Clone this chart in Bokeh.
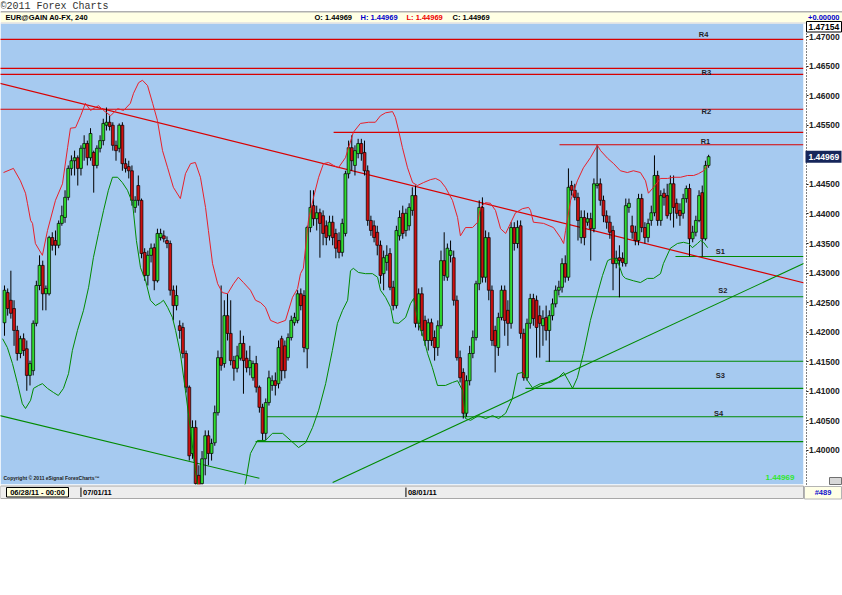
from bokeh.plotting import figure
from bokeh.models import (ColumnDataSource, Range1d, FixedTicker, LinearAxis,
                          PrintfTickFormatter)
from bokeh.core.properties import value
from bokeh.embed import file_html
from bokeh.resources import INLINE

# ---------------------------------------------------------------- data
SYMBOL = "EUR@GAIN A0-FX, 240"
FIRST_BAR = "06/28/11 - 00:00"
BAR_COUNT = "#489"
COPYRIGHT = "Copyright \u00a9 2011 eSignal ForexCharts\u2122"
CHANGE = "+0.00000"
TOP_PRICE = 1.47154

# 4-hour EUR/USD bars (open / high / low / close)
opens = [
    1.4216, 1.4267, 1.4254, 1.4240, 1.4203, 1.4164, 1.4189, 1.4172, 1.4127, 1.4135,
    1.4215, 1.4279, 1.4313, 1.4265, 1.4265, 1.4360, 1.4355, 1.4347, 1.4384, 1.4394,
    1.4428, 1.4477, 1.4490, 1.4495, 1.4477, 1.4511, 1.4519, 1.4495, 1.4504, 1.4482,
    1.4511, 1.4524, 1.4550, 1.4555, 1.4550, 1.4516, 1.4511, 1.4550, 1.4485, 1.4480,
    1.4473, 1.4411, 1.4448, 1.4423, 1.4335, 1.4296, 1.4330, 1.4343, 1.4287, 1.4360,
    1.4363, 1.4355, 1.4350, 1.4271, 1.4245, 1.4211, 1.4208, 1.4164, 1.4107, 1.3995,
    1.4039, 1.3958, 1.3944, 1.3986, 1.4025, 1.3995, 1.4013, 1.4064, 1.4157, 1.4147,
    1.4228, 1.4198, 1.4152, 1.4139, 1.4156, 1.4181, 1.4156, 1.4140, 1.4123, 1.4147,
    1.4107, 1.4073, 1.4029, 1.4081, 1.4110, 1.4118, 1.4113, 1.4189, 1.4177, 1.4157,
    1.4191, 1.4216, 1.4220, 1.4265, 1.4262, 1.4172, 1.4377, 1.4414, 1.4392, 1.4402,
    1.4397, 1.4380, 1.4363, 1.4386, 1.4367, 1.4355, 1.4335, 1.4367, 1.4468, 1.4512,
    1.4482, 1.4502, 1.4519, 1.4504, 1.4473, 1.4389, 1.4380, 1.4369, 1.4347, 1.4299,
    1.4318, 1.4333, 1.4276, 1.4245, 1.4363, 1.4401, 1.4372, 1.4380, 1.4406, 1.4431,
    1.4215, 1.4265, 1.4220, 1.4186, 1.4216, 1.4191, 1.4174, 1.4211, 1.4321, 1.4293,
    1.4330, 1.4326, 1.4254, 1.4157, 1.4132, 1.4063, 1.4118, 1.4164, 1.4191, 1.4282,
    1.4411, 1.4293, 1.4360, 1.4271, 1.4203, 1.4174, 1.4225, 1.4271, 1.4237, 1.4215,
    1.4377, 1.4350, 1.4380, 1.4198, 1.4123, 1.4215, 1.4257, 1.4254, 1.4228, 1.4211,
    1.4225, 1.4203, 1.4228, 1.4248, 1.4271, 1.4276, 1.4316, 1.4293, 1.4448, 1.4440,
    1.4428, 1.4360, 1.4394, 1.4386, 1.4392, 1.4375, 1.4448, 1.4451, 1.4423, 1.4397,
    1.4386, 1.4372, 1.4316, 1.4326, 1.4325, 1.4316, 1.4411, 1.4380, 1.4369, 1.4355,
    1.4426, 1.4377, 1.4360, 1.4389, 1.4402, 1.4465, 1.4389, 1.4435, 1.4431, 1.4401,
    1.4451, 1.4418, 1.4406, 1.4401, 1.4426, 1.4443, 1.4358, 1.4369, 1.4389, 1.4436,
    1.4358, 1.4482,
]
highs = [
    1.4279, 1.4274, 1.4304, 1.4254, 1.4211, 1.4194, 1.4198, 1.4186, 1.4152, 1.4220,
    1.4287, 1.4330, 1.4321, 1.4279, 1.4363, 1.4369, 1.4372, 1.4389, 1.4414, 1.4440,
    1.4482, 1.4499, 1.4507, 1.4499, 1.4516, 1.4533, 1.4524, 1.4545, 1.4507, 1.4516,
    1.4533, 1.4561, 1.4580, 1.4566, 1.4555, 1.4524, 1.4553, 1.4555, 1.4494, 1.4490,
    1.4482, 1.4430, 1.4465, 1.4426, 1.4342, 1.4338, 1.4350, 1.4350, 1.4375, 1.4375,
    1.4372, 1.4362, 1.4355, 1.4279, 1.4279, 1.4220, 1.4216, 1.4169, 1.4110, 1.4051,
    1.4051, 1.3975, 1.3999, 1.4034, 1.4034, 1.4020, 1.4076, 1.4169, 1.4279, 1.4254,
    1.4265, 1.4254, 1.4160, 1.4177, 1.4203, 1.4194, 1.4169, 1.4177, 1.4152, 1.4160,
    1.4110, 1.4079, 1.4088, 1.4135, 1.4127, 1.4132, 1.4186, 1.4194, 1.4186, 1.4198,
    1.4228, 1.4233, 1.4271, 1.4274, 1.4271, 1.4380, 1.4440, 1.4440, 1.4414, 1.4409,
    1.4406, 1.4389, 1.4397, 1.4397, 1.4375, 1.4369, 1.4392, 1.4473, 1.4524, 1.4533,
    1.4516, 1.4527, 1.4527, 1.4524, 1.4482, 1.4397, 1.4389, 1.4380, 1.4355, 1.4338,
    1.4347, 1.4342, 1.4287, 1.4380, 1.4406, 1.4414, 1.4409, 1.4418, 1.4445, 1.4448,
    1.4274, 1.4276, 1.4228, 1.4223, 1.4223, 1.4203, 1.4220, 1.4338, 1.4369, 1.4350,
    1.4355, 1.4338, 1.4262, 1.4169, 1.4139, 1.4127, 1.4177, 1.4203, 1.4287, 1.4423,
    1.4428, 1.4372, 1.4369, 1.4279, 1.4211, 1.4233, 1.4279, 1.4279, 1.4254, 1.4386,
    1.4386, 1.4389, 1.4389, 1.4206, 1.4223, 1.4265, 1.4265, 1.4262, 1.4245, 1.4237,
    1.4245, 1.4237, 1.4257, 1.4279, 1.4287, 1.4325, 1.4330, 1.4477, 1.4456, 1.4451,
    1.4436, 1.4406, 1.4406, 1.4402, 1.4402, 1.4460, 1.4516, 1.4460, 1.4431, 1.4406,
    1.4397, 1.4380, 1.4338, 1.4347, 1.4335, 1.4426, 1.4426, 1.4397, 1.4380, 1.4434,
    1.4434, 1.4386, 1.4392, 1.4414, 1.4499, 1.4473, 1.4440, 1.4443, 1.4451, 1.4465,
    1.4465, 1.4426, 1.4418, 1.4434, 1.4448, 1.4451, 1.4380, 1.4397, 1.4440, 1.4448,
    1.4490, 1.4500,
]
lows = [
    1.4194, 1.4228, 1.4223, 1.4177, 1.4152, 1.4156, 1.4160, 1.4101, 1.4110, 1.4127,
    1.4210, 1.4271, 1.4237, 1.4237, 1.4262, 1.4338, 1.4330, 1.4342, 1.4380, 1.4385,
    1.4423, 1.4465, 1.4465, 1.4448, 1.4465, 1.4490, 1.4482, 1.4490, 1.4436, 1.4477,
    1.4504, 1.4516, 1.4541, 1.4541, 1.4507, 1.4490, 1.4504, 1.4473, 1.4470, 1.4460,
    1.4414, 1.4402, 1.4414, 1.4325, 1.4287, 1.4279, 1.4318, 1.4271, 1.4284, 1.4355,
    1.4352, 1.4342, 1.4262, 1.4220, 1.4237, 1.4189, 1.4156, 1.4098, 1.3983, 1.3986,
    1.3932, 1.3925, 1.3932, 1.3958, 1.3975, 1.3983, 1.4008, 1.4059, 1.4135, 1.4140,
    1.4186, 1.4144, 1.4118, 1.4132, 1.4152, 1.4096, 1.4132, 1.4127, 1.4118, 1.4098,
    1.4064, 1.4017, 1.4017, 1.4076, 1.4101, 1.4093, 1.4105, 1.4118, 1.4122, 1.4152,
    1.4186, 1.4211, 1.4215, 1.4237, 1.4166, 1.4139, 1.4369, 1.4380, 1.4372, 1.4326,
    1.4347, 1.4347, 1.4355, 1.4347, 1.4325, 1.4325, 1.4328, 1.4362, 1.4460, 1.4473,
    1.4465, 1.4494, 1.4490, 1.4465, 1.4380, 1.4363, 1.4352, 1.4330, 1.4282, 1.4271,
    1.4304, 1.4271, 1.4237, 1.4240, 1.4355, 1.4358, 1.4362, 1.4372, 1.4397, 1.4208,
    1.4203, 1.4194, 1.4177, 1.4169, 1.4177, 1.4152, 1.4160, 1.4206, 1.4287, 1.4287,
    1.4318, 1.4245, 1.4152, 1.4115, 1.4054, 1.4057, 1.4110, 1.4156, 1.4186, 1.4271,
    1.4284, 1.4284, 1.4254, 1.4177, 1.4132, 1.4160, 1.4220, 1.4194, 1.4177, 1.4206,
    1.4338, 1.4342, 1.4189, 1.4118, 1.4118, 1.4206, 1.4211, 1.4157, 1.4157, 1.4177,
    1.4186, 1.4150, 1.4220, 1.4242, 1.4262, 1.4267, 1.4284, 1.4287, 1.4431, 1.4423,
    1.4355, 1.4350, 1.4347, 1.4380, 1.4321, 1.4369, 1.4443, 1.4414, 1.4386, 1.4375,
    1.4358, 1.4271, 1.4308, 1.4259, 1.4311, 1.4311, 1.4402, 1.4358, 1.4347, 1.4347,
    1.4369, 1.4350, 1.4352, 1.4380, 1.4396, 1.4380, 1.4380, 1.4414, 1.4392, 1.4389,
    1.4377, 1.4392, 1.4380, 1.4392, 1.4419, 1.4328, 1.4352, 1.4362, 1.4386, 1.4328,
    1.4355, 1.4478,
]
closes = [
    1.4271, 1.4240, 1.4232, 1.4203, 1.4164, 1.4189, 1.4169, 1.4127, 1.4147, 1.4215,
    1.4279, 1.4313, 1.4265, 1.4274, 1.4360, 1.4347, 1.4347, 1.4384, 1.4397, 1.4428,
    1.4477, 1.4490, 1.4495, 1.4477, 1.4511, 1.4519, 1.4495, 1.4536, 1.4482, 1.4511,
    1.4524, 1.4553, 1.4555, 1.4548, 1.4516, 1.4507, 1.4550, 1.4485, 1.4477, 1.4473,
    1.4423, 1.4423, 1.4423, 1.4333, 1.4296, 1.4330, 1.4342, 1.4287, 1.4367, 1.4367,
    1.4358, 1.4350, 1.4271, 1.4245, 1.4262, 1.4203, 1.4164, 1.4107, 1.3991, 1.4039,
    1.3944, 1.3936, 1.3986, 1.4025, 1.3995, 1.4012, 1.4064, 1.4157, 1.4144, 1.4228,
    1.4198, 1.4152, 1.4139, 1.4160, 1.4181, 1.4152, 1.4140, 1.4152, 1.4147, 1.4107,
    1.4073, 1.4029, 1.4081, 1.4123, 1.4118, 1.4110, 1.4174, 1.4135, 1.4135, 1.4191,
    1.4220, 1.4225, 1.4265, 1.4245, 1.4174, 1.4377, 1.4411, 1.4392, 1.4402, 1.4384,
    1.4367, 1.4360, 1.4386, 1.4360, 1.4342, 1.4335, 1.4384, 1.4468, 1.4512, 1.4490,
    1.4507, 1.4519, 1.4502, 1.4473, 1.4389, 1.4372, 1.4360, 1.4347, 1.4296, 1.4326,
    1.4330, 1.4276, 1.4245, 1.4372, 1.4394, 1.4367, 1.4401, 1.4411, 1.4431, 1.4215,
    1.4265, 1.4203, 1.4186, 1.4216, 1.4186, 1.4174, 1.4211, 1.4321, 1.4296, 1.4342,
    1.4338, 1.4254, 1.4157, 1.4123, 1.4063, 1.4118, 1.4164, 1.4191, 1.4282, 1.4411,
    1.4293, 1.4360, 1.4271, 1.4186, 1.4177, 1.4225, 1.4271, 1.4220, 1.4215, 1.4377,
    1.4350, 1.4377, 1.4198, 1.4123, 1.4215, 1.4257, 1.4223, 1.4208, 1.4215, 1.4223,
    1.4203, 1.4228, 1.4248, 1.4271, 1.4276, 1.4316, 1.4293, 1.4445, 1.4440, 1.4428,
    1.4389, 1.4394, 1.4360, 1.4392, 1.4375, 1.4451, 1.4451, 1.4423, 1.4397, 1.4386,
    1.4369, 1.4316, 1.4325, 1.4321, 1.4318, 1.4414, 1.4418, 1.4369, 1.4355, 1.4426,
    1.4377, 1.4360, 1.4384, 1.4402, 1.4465, 1.4389, 1.4431, 1.4428, 1.4397, 1.4451,
    1.4411, 1.4401, 1.4397, 1.4426, 1.4443, 1.4358, 1.4369, 1.4389, 1.4431, 1.4358,
    1.4482, 1.44969,
]

# Bollinger envelope (bar position, price)
upper_bar = [
    -0.3, 2.8, 5.0, 6.6, 7.2, 8.2, 8.8, 9.7, 11.9, 13.5,
    16.0, 18.2, 19.8, 20.7, 22.3, 23.9, 25.4, 27.0, 29.5, 31.1,
    33.3, 35.5, 37.4, 39.5, 40.5, 42.1, 43.3, 44.9, 46.5, 48.0,
    49.6, 51.2, 53.0, 55.2, 56.8, 58.4, 59.9, 61.5, 63.1, 64.0,
    65.3, 66.9, 68.4, 70.0, 71.9, 73.4, 75.0, 77.2, 78.8, 80.4,
    81.9, 83.5, 85.7, 88.2, 90.4, 92.0, 92.9, 93.8, 95.4, 97.0,
    98.6, 100.1, 101.7, 103.3, 104.8, 107.0, 109.5, 111.7, 114.3, 116.4,
    118.0, 119.6, 121.8, 122.7, 123.7, 124.9, 126.5, 128.1, 129.6, 131.5,
    133.7, 135.3, 136.8, 138.4, 140.6, 142.2, 143.1, 144.7, 146.9, 148.5,
    149.4, 151.0, 152.5, 154.1, 155.7, 157.3, 158.8, 160.4, 162.6, 164.5,
    165.1, 166.0, 169.2, 172.3, 174.5, 175.5, 176.1, 177.7, 179.8, 181.7,
    183.9, 186.1, 187.1, 189.3, 191.2, 193.3, 195.5, 197.4, 199.6, 201.2,
    202.1, 203.7, 205.9, 208.1, 210.0, 212.2, 214.4, 216.3, 217.8, 219.4,
    220.7,
]
upper_band = [
    1.4470, 1.4477, 1.4456, 1.4435, 1.4418, 1.4389, 1.4384, 1.4350, 1.4330, 1.4372,
    1.4423, 1.4451, 1.4512, 1.4545, 1.4546, 1.4566, 1.4587, 1.4575, 1.4583, 1.4575,
    1.4566, 1.4578, 1.4575, 1.4587, 1.4604, 1.4622, 1.4626, 1.4617, 1.4587, 1.4558,
    1.4507, 1.4478, 1.4445, 1.4426, 1.4468, 1.4485, 1.4487, 1.4462, 1.4411, 1.4372,
    1.4316, 1.4282, 1.4267, 1.4265, 1.4282, 1.4293, 1.4284, 1.4271, 1.4254, 1.4250,
    1.4242, 1.4220, 1.4215, 1.4220, 1.4259, 1.4274, 1.4299, 1.4308, 1.4389, 1.4428,
    1.4462, 1.4485, 1.4487, 1.4482, 1.4478, 1.4495, 1.4538, 1.4553, 1.4555, 1.4555,
    1.4566, 1.4571, 1.4573, 1.4563, 1.4541, 1.4512, 1.4478, 1.4453, 1.4448, 1.4453,
    1.4458, 1.4460, 1.4456, 1.4445, 1.4423, 1.4394, 1.4363, 1.4377, 1.4377, 1.4386,
    1.4411, 1.4419, 1.4418, 1.4406, 1.4375, 1.4367, 1.4384, 1.4402, 1.4409, 1.4411,
    1.4406, 1.4386, 1.4384, 1.4377, 1.4360, 1.4350, 1.4372, 1.4423, 1.4456, 1.4478,
    1.4495, 1.4516, 1.4507, 1.4494, 1.4485, 1.4473, 1.4470, 1.4473, 1.4470, 1.4456,
    1.4435, 1.4445, 1.4460, 1.4460, 1.4462, 1.4462, 1.4465, 1.4465, 1.4468, 1.4473,
    1.4482,
]
lower_bar = [
    -0.6, 0.9, 2.5, 4.1, 5.6, 6.6, 8.2, 9.1, 10.7, 11.9,
    13.5, 15.4, 16.9, 18.5, 20.1, 21.3, 22.9, 24.8, 26.4, 27.9,
    29.5, 31.1, 32.6, 33.9, 35.5, 37.0, 38.6, 40.2, 41.4, 42.7,
    44.3, 45.8, 47.4, 49.0, 49.9, 51.2, 52.7, 53.7, 55.2, 56.8,
    58.4, 59.9, 61.5, 65.0, 70.0, 75.6, 77.2, 79.4, 81.9, 84.1,
    87.3, 89.8, 92.3, 94.5, 96.7, 98.6, 100.8, 102.9, 104.5, 106.1,
    107.7, 108.6, 109.5, 111.1, 113.3, 115.5, 117.1, 118.0, 119.6, 121.2,
    122.1, 123.7, 125.9, 127.4, 128.4, 129.9, 131.5, 132.8, 134.3, 135.9,
    138.4, 140.6, 142.2, 143.8, 144.7, 146.3, 148.8, 151.0, 153.2, 155.1,
    157.3, 159.4, 161.0, 162.6, 164.2, 165.7, 168.2, 171.4, 173.6, 175.5,
    177.0, 178.3, 179.8, 181.7, 183.9, 186.1, 187.7, 189.3, 190.8, 192.4,
    194.0, 194.9, 197.4, 199.6, 201.8, 203.7, 205.9, 206.8, 209.0, 211.2,
    213.1, 214.7, 215.9, 217.5, 218.5, 219.4, 220.7,
]
lower_band = [
    1.4189, 1.4174, 1.4147, 1.4113, 1.4079, 1.4071, 1.4085, 1.4105, 1.4110, 1.4113,
    1.4105, 1.4098, 1.4093, 1.4105, 1.4130, 1.4169, 1.4203, 1.4237, 1.4276, 1.4326,
    1.4367, 1.4406, 1.4440, 1.4462, 1.4462, 1.4453, 1.4440, 1.4418, 1.4355, 1.4309,
    1.4287, 1.4254, 1.4245, 1.4250, 1.4254, 1.4242, 1.4225, 1.4203, 1.4164, 1.4101,
    1.4034, 1.3966, 1.3915, 1.3880, 1.3885, 1.3944, 1.3995, 1.4017, 1.4017, 1.4029,
    1.4029, 1.4017, 1.4005, 1.4013, 1.4039, 1.4068, 1.4113, 1.4169, 1.4215, 1.4237,
    1.4254, 1.4304, 1.4308, 1.4301, 1.4299, 1.4299, 1.4293, 1.4271, 1.4259, 1.4242,
    1.4216, 1.4215, 1.4225, 1.4248, 1.4257, 1.4215, 1.4191, 1.4164, 1.4140, 1.4110,
    1.4110, 1.4115, 1.4118, 1.4101, 1.4054, 1.4051, 1.4059, 1.4054, 1.4059, 1.4054,
    1.4063, 1.4088, 1.4130, 1.4132, 1.4118, 1.4106, 1.4113, 1.4115, 1.4122, 1.4132,
    1.4118, 1.4105, 1.4123, 1.4164, 1.4220, 1.4265, 1.4296, 1.4321, 1.4325, 1.4321,
    1.4296, 1.4291, 1.4287, 1.4284, 1.4291, 1.4291, 1.4299, 1.4316, 1.4342, 1.4350,
    1.4352, 1.4350, 1.4343, 1.4350, 1.4355, 1.4352, 1.4343,
]

# horizontal resistance / support levels and the bar each one starts from
resistance_levels = [1.4695, 1.4646, 1.4636, 1.4577, 1.4538, 1.4517]
resistance_from = [-3, -3, -3, -3, 103.3, 174.2]
support_levels = [1.4328, 1.4260, 1.4151, 1.4105, 1.4057, 1.4015]
support_from = [210.6, 173.9, 169.8, 163.5, 81.9, 78.8]

level_names = ["R4", "R3", "R2", "R1", "S1", "S2", "S3", "S4"]
level_prices = [1.4695, 1.4636, 1.4577, 1.4517, 1.4328, 1.4260, 1.4151, 1.4057]

# trend lines (bar, price) end points
falling_bars = [-3, 252]
falling_line = [1.4623, 1.4282]
channel_bars = [-3, 80]
channel_line = [1.4061, 1.3953]
rising_bars = [103, 252]
rising_line = [1.3946, 1.4319]

price_ticks = [1.400, 1.405, 1.410, 1.415, 1.420, 1.425, 1.430, 1.435,
               1.440, 1.445, 1.450, 1.455, 1.460, 1.465, 1.470]

date_tick_bars = [24, 126]
date_tick_labels = ["07/01/11", "08/01/11"]

# ---------------------------------------------------------------- styling
SKY = "#A6CAF0"
UP = "#2FDC2F"
DOWN = "#CC1010"
RED_LINE = "#D80000"
GREEN_LINE = "#008A00"
CREAM = "#FFFFE4"
SANS = "Liberation Sans"

W, H = 842, 500
PLOT_W = 803                        # width of the price panel, axis column to its right
HEAD, FOOT = 23, 16                 # header / date strip heights (px)

# price panel window: bars on x, price on y
X0, X1 = -1.255, 250.78
Y0, Y1 = 1.39425, 1.47220
bar_per_px = (X1 - X0) / PLOT_W
price_per_px = (Y1 - Y0) / (H - HEAD - FOOT)
XE = X0 + W * bar_per_px
YB, YT = Y0 - FOOT * price_per_px, Y1 + HEAD * price_per_px

last = closes[-1]
last_txt = f"{last:.5f}"

p = figure(width=W, height=H, x_range=Range1d(X0, XE), y_range=Range1d(YB, YT),
           extra_x_ranges={"px": Range1d(0, W)},
           extra_y_ranges={"px": Range1d(H, 0)},
           x_axis_location=None, y_axis_location=None, output_backend="svg",
           toolbar_location=None, min_border=0, outline_line_color=None,
           background_fill_color="white", border_fill_color="white")
p.grid.visible = False

px = dict(x_range_name="px", y_range_name="px")

# price panel background
p.quad(left=[0], right=[PLOT_W], top=[HEAD], bottom=[H - FOOT], fill_color=SKY,
       line_color=None, **px)

# ---- horizontal levels and trend lines
p.segment(x0=resistance_from, y0=resistance_levels, x1=[X1] * len(resistance_levels),
          y1=resistance_levels, line_color=RED_LINE, line_width=1.2)
p.segment(x0=support_from, y0=support_levels, x1=[X1] * len(support_levels),
          y1=support_levels, line_color=GREEN_LINE, line_width=1.1)
p.line(falling_bars, falling_line, line_color=RED_LINE, line_width=1.2)
p.line(channel_bars, channel_line, line_color=GREEN_LINE, line_width=1.1)
p.line(rising_bars, rising_line, line_color=GREEN_LINE, line_width=1.1)

# ---- candles
bars = list(range(len(closes)))
candles = ColumnDataSource(dict(
    bar=bars, high=highs, low=lows,
    top=[max(o, c) for o, c in zip(opens, closes)],
    bottom=[min(o, c) for o, c in zip(opens, closes)],
    color=[UP if c >= o else DOWN for o, c in zip(opens, closes)],
))
p.segment(x0="bar", y0="low", x1="bar", y1="high", source=candles,
          line_color="black", line_width=1)
p.vbar(x="bar", top="top", bottom="bottom", width=0.9, source=candles,
       fill_color="color", line_color="black", line_width=0.7)

# ---- Bollinger envelope
p.line(upper_bar, upper_band, line_color="#E8202A", line_width=1)
p.line(lower_bar, lower_band, line_color=GREEN_LINE, line_width=1)

# ---- level captions
caps = ColumnDataSource(dict(
    x=[219.4, 220.3, 220.3, 220.0, 224.7, 225.5, 224.7, 224.1],
    y=level_prices, text=level_names,
    dy=[-5, -2, 2.5, -3, -5, -6.5, 14, -3.5],
))
p.text(x="x", y="y", text="text", y_offset="dy", source=caps,
       text_font=value(SANS), text_font_style="bold", text_font_size="7.5px",
       text_color="#1E1E28", text_align="center", text_baseline="middle")

p.text(x=[3], y=[477], text=[COPYRIGHT], text_font=value(SANS),
       text_font_style="bold", text_font_size="5px", text_color="#1A1A1A",
       text_baseline="middle", **px)
p.text(x=[765], y=[477], text=[last_txt], text_font=value(SANS),
       text_font_style="bold", text_font_size="8px", text_color="#2EE82E",
       text_baseline="middle", **px)

# ---- masks: axis column, header strip, date strip
p.quad(left=[PLOT_W], right=[W], top=[0], bottom=[H], fill_color="white",
       line_color=None, **px)
p.quad(left=[0], right=[W], top=[0], bottom=[HEAD], fill_color="white",
       line_color=None, **px)
p.quad(left=[0], right=[W], top=[H - FOOT], bottom=[H], fill_color="white",
       line_color=None, **px)

# header
p.quad(left=[0], right=[W], top=[11], bottom=[12], fill_color="#626262",
       line_color=None, **px)
p.quad(left=[0], right=[W], top=[12], bottom=[22], fill_color=CREAM,
       line_color=None, **px)
p.quad(left=[0], right=[W], top=[22], bottom=[23], fill_color="#D4D4D4",
       line_color=None, **px)
p.text(x=[0], y=[0.5], text=["\u00a92011 Forex Charts"], text_font=value("Liberation Mono"),
       text_font_size="10px", text_baseline="top", text_color="#333333", **px)
hdr = ColumnDataSource(dict(
    x=[5, 314, 360, 406, 452],
    y=[17.2] * 5,
    text=[SYMBOL, f"O: {last_txt}", f"H: {last_txt}", f"L: {last_txt}", f"C: {last_txt}"],
    color=["#000000", "#000000", "#0000CC", "#EE0000", "#000000"],
))
p.text(x="x", y="y", text="text", text_color="color", source=hdr,
       text_font=value(SANS), text_font_style="bold", text_font_size="7.5px",
       text_baseline="middle", **px)
p.text(x=[839], y=[17.2], text=[CHANGE], text_color="#0000CC", text_font=value(SANS),
       text_font_style="bold", text_font_size="7.5px", text_baseline="middle",
       text_align="right", **px)

# date strip
p.quad(left=[0], right=[PLOT_W], top=[485.5], bottom=[498], fill_color="#EDEDED",
       line_color="#A8A8A8", **px)
p.quad(left=[6], right=[68], top=[487], bottom=[496.5], fill_color="#FFFFE0",
       line_color="black", **px)
p.text(x=[37], y=[491.8], text=[FIRST_BAR], text_font=value(SANS),
       text_font_style="bold", text_font_size="7.5px", text_align="center",
       text_baseline="middle", text_color="black", **px)
p.segment(x0=date_tick_bars, y0=[487] * 2, x1=date_tick_bars, y1=[496.5] * 2,
          y_range_name="px", line_color="black", line_width=1)
p.text(x=date_tick_bars, y=[491.8] * 2, text=date_tick_labels, x_offset=2,
       y_range_name="px", text_font=value(SANS), text_font_style="bold",
       text_font_size="7.5px", text_baseline="middle", text_color="black")
p.quad(left=[804], right=[841], top=[486], bottom=[498.5], fill_color="#FFFFE6",
       line_color="#B4B4B4", **px)
p.text(x=[822.5], y=[492.3], text=[BAR_COUNT], text_font=value(SANS),
       text_font_style="bold", text_font_size="7.5px", text_align="center",
       text_baseline="middle", text_color="#1010CC", **px)

# ---- price axis in the right column
axis = LinearAxis(fixed_location=X1 + 2.5 * bar_per_px, bounds=(Y0, Y1),
                  ticker=FixedTicker(ticks=price_ticks),
                  formatter=PrintfTickFormatter(format="%.5f"),
                  major_label_text_font=SANS, major_label_text_font_style="bold",
                  major_label_text_font_size="8.5px", major_label_text_color="#202020",
                  major_label_standoff=1, major_tick_out=2, major_tick_in=0,
                  major_tick_line_color="#202020", minor_tick_line_color=None,
                  axis_line_color="black", axis_line_dash="1 2")
p.add_layout(axis, "right")

# boxes drawn over the axis column
top_y = Y1 - 3.5 * price_per_px
p.quad(left=[806], right=[841], top=[top_y + 5.5 * price_per_px],
       bottom=[top_y - 5 * price_per_px], x_range_name="px", fill_color="white",
       line_color="black", level="overlay")
p.text(x=[808], y=[top_y], text=[f"{TOP_PRICE:.5f}"], x_range_name="px",
       text_font=value(SANS), text_font_style="bold", text_font_size="8.5px",
       text_baseline="middle", text_color="black", level="overlay")
p.quad(left=[805], right=[841], top=[last + 6 * price_per_px],
       bottom=[last - 6 * price_per_px], x_range_name="px", fill_color="#16265A",
       line_color=None, level="overlay")
p.text(x=[808], y=[last], text=[last_txt], x_range_name="px",
       text_font=value(SANS), text_font_style="bold", text_font_size="8.5px",
       text_baseline="middle", text_color="white", level="overlay")
p.quad(left=[829], right=[841], top=[477], bottom=[484], fill_color="#D8D8D8",
       line_color="#707070", level="overlay", **px)

open("out.html", "w").write(file_html(p, INLINE))
